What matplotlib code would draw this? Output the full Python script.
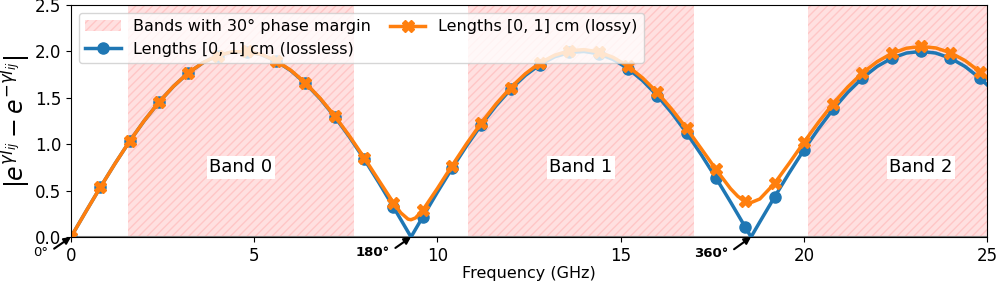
import numpy as np
import matplotlib.pyplot as plt

# frequency grid (GHz) used for the curves
freq = [0.0, 0.4, 0.8, 1.2, 1.6, 2.0, 2.4, 2.8, 3.2, 3.6, 4.0, 4.4, 4.8, 5.2, 5.6,
        6.0, 6.4, 6.8, 7.2, 7.6, 8.0, 8.4, 8.8, 9.0, 9.2, 9.28, 9.4, 9.6, 10.0,
        10.4, 10.8, 11.2, 11.6, 12.0, 12.4, 12.8, 13.2, 13.6, 14.0, 14.4, 14.8,
        15.2, 15.6, 16.0, 16.4, 16.8, 17.2, 17.6, 18.0, 18.2, 18.4, 18.56, 18.8,
        19.2, 19.6, 20.0, 20.4, 20.8, 21.2, 21.6, 22.0, 22.4, 22.8, 23.2, 23.6,
        24.0, 24.4, 24.8, 25.0]

lossless = [0.0, 0.270, 0.535, 0.790, 1.031, 1.253, 1.452, 1.624, 1.767, 1.877,
            1.953, 1.993, 1.997, 1.964, 1.895, 1.792, 1.655, 1.489, 1.295, 1.077,
            0.840, 0.587, 0.323, 0.189, 0.054, 0.0, 0.081, 0.216, 0.483, 0.740,
            0.984, 1.210, 1.414, 1.592, 1.741, 1.858, 1.941, 1.988, 1.999, 1.974,
            1.912, 1.815, 1.685, 1.524, 1.335, 1.122, 0.888, 0.638, 0.377, 0.243,
            0.108, 0.0, 0.163, 0.430, 0.690, 0.937, 1.167, 1.376, 1.559, 1.714,
            1.837, 1.927, 1.982, 2.000, 1.982, 1.927, 1.837, 1.713, 1.640]

lossy = [0.0, 0.270, 0.535, 0.790, 1.032, 1.254, 1.453, 1.625, 1.768, 1.878,
         1.955, 1.995, 1.999, 1.967, 1.898, 1.796, 1.660, 1.495, 1.303, 1.088,
         0.855, 0.611, 0.368, 0.261, 0.192, 0.186, 0.205, 0.289, 0.523, 0.769,
         1.007, 1.231, 1.433, 1.610, 1.759, 1.876, 1.959, 2.007, 2.019, 1.995,
         1.935, 1.840, 1.714, 1.557, 1.375, 1.171, 0.952, 0.729, 0.521, 0.438,
         0.384, 0.371, 0.410, 0.577, 0.794, 1.019, 1.236, 1.438, 1.616, 1.768,
         1.889, 1.978, 2.034, 2.053, 2.037, 1.986, 1.901, 1.783, 1.715]

# bands with 30 deg phase margin (GHz)
band_lo = [1.547, 10.827, 20.107]
band_hi = [7.733, 17.013, 26.29]
band_names = ["Band 0", "Band 1", "Band 2"]
band_label_x = [4.64, 13.92, 23.2]

# phase annotations
phase_f = [0.0, 9.28, 18.56]
phase_txt = ["0°", "180°", "360°"]
phase_bold = ['normal', 'bold', 'bold']

# markers every 0.8 GHz
mark = [i for i, f in enumerate(freq) if abs(f / 0.8 - round(f / 0.8)) < 1e-6]

fig = plt.figure(figsize=(9.97, 2.84), dpi=100)
ax = fig.add_axes([0.0712, 0.1655, 0.9188, 0.817])

for k in range(len(band_lo)):
    ax.axvspan(band_lo[k], band_hi[k], facecolor=(1, 0, 0, 0.12),
               edgecolor=(1, 0.55, 0.55, 0.3), hatch='////', lw=0,
               label="Bands with 30° phase margin" if k == 0 else None)
    ax.text(band_label_x[k], 0.75, band_names[k], ha='center', va='center',
            fontsize=13, bbox=dict(facecolor='white', edgecolor='none', pad=2))

ax.plot(freq, lossless, '-o', color='tab:blue', lw=2.5, ms=8, markevery=mark,
        label="Lengths [0, 1] cm (lossless)")
ax.plot(freq, lossy, '-X', color='tab:orange', lw=2.5, ms=9, markevery=mark,
        label="Lengths [0, 1] cm (lossy)")

ax.axhline(0, color='grey', lw=1.5, zorder=1)

offs = [(-22, -11.5), (-28, -11), (-29, -12)]
for f, t, o, w in zip(phase_f, phase_txt, offs, phase_bold):
    ax.annotate(t, xy=(f, 0), xytext=o, textcoords='offset points',
                ha='center', va='center', fontsize=9.5, fontweight=w,
                arrowprops=dict(arrowstyle='-|>', color='black', lw=1.5,
                                relpos=(1, 0.5), shrinkA=3, shrinkB=0,
                                mutation_scale=10),
                annotation_clip=False)

ax.set_xlim(0, 25)
ax.set_ylim(0, 2.5)
ax.set_xticks([0, 5, 10, 15, 20, 25])
ax.set_yticks([0.0, 0.5, 1.0, 1.5, 2.0, 2.5])
ax.tick_params(labelsize=12)
ax.set_xlabel('Frequency (GHz)', fontsize=11.5, labelpad=1)
ax.set_ylabel(r'$|e^{\gamma l_{ij}} - e^{-\gamma l_{ij}}|$', fontsize=17)
ax.yaxis.set_label_coords(-0.041, 0.5)
ax.legend(loc='upper left', ncol=2, fontsize=11.5, handlelength=2.2,
          borderaxespad=0.5, columnspacing=1.2, labelspacing=0.45)

plt.savefig('out.png', dpi=100)
